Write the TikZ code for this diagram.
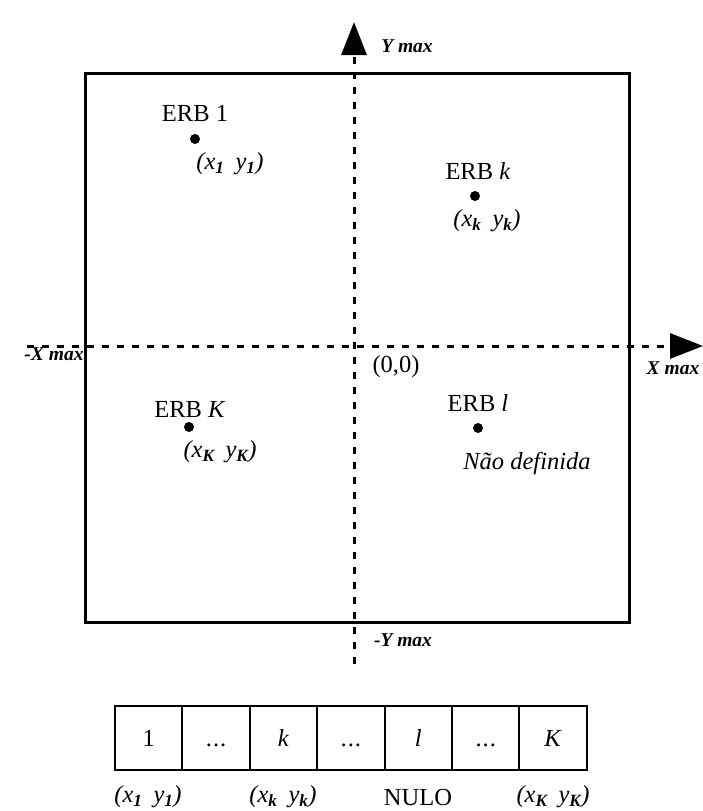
\documentclass[tikz,border=0pt]{standalone}
\usepackage{fontspec}
\setmainfont{Liberation Serif}
\usetikzlibrary{arrows.meta}
\newcommand{\xy}[1]{\itshape(x\textsubscript{\bfseries #1}\hspace{0.45em}y\textsubscript{\bfseries #1})}
\newcommand{\etc}{.\kern1pt.\kern1pt.}

\begin{document}
\begin{tikzpicture}[x=1pt,y=-1pt,font=\fontsize{24.5}{28}\selectfont,
    axis/.style={line width=3pt,dash pattern=on 7pt off 8pt,-{Triangle[length=33pt,width=25pt]}},
    erb/.style={circle,fill,inner sep=0pt,minimum size=10pt},
    cell/.style={draw,line width=2pt,minimum width=67.4pt,minimum height=64pt,inner sep=0pt,text height=17pt,text depth=0pt},
    lim/.style={font=\fontsize{19.5}{22}\selectfont\bfseries\itshape}]
  \useasboundingbox (0,0) rectangle (703,811);
  % area
  \draw[line width=3pt] (85,73) rectangle (629,622);
  % axes
  \coordinate (ybot) at (354,664);
  \coordinate (ytop) at (354,22);
  \coordinate (xleft) at (27,346);
  \coordinate (xright) at (703,346);
  \draw[axis] (ybot) -- (ytop);
  \draw[axis] (xleft) -- (xright);
  \node[lim] (ymax) at (407,46) {Y max};
  \node[lim] (ymin) at (403,640) {-Y max};
  \node[lim] (xmin) at (54,354) {-X max};
  \node[lim] (xmax) at (673,368) {X max};
  \node (orig) at (396,367) {(0,0)};
  % stations
  \node (erb1) at (195,113) {ERB 1};
  \node[erb] (p1) at (195,139) {};
  \node (c1) at (230,164) {\xy{1}};
  \node (erbk) at (478,171) {ERB \textit{k}};
  \node[erb] (pk) at (475,196) {};
  \node (ck) at (487,221) {\xy{k}};
  \node (erbK) at (190,410) {ERB \textit{K}};
  \node[erb] (pK) at (189,427) {};
  \node (cK) at (220,452) {\xy{K}};
  \node (erbl) at (478,403) {ERB \textit{l}};
  \node[erb] (pl) at (478,428) {};
  \node (cl) at (527,463) {\itshape Não definida};
  % table
  \foreach \txt [count=\i] in {1,\etc,\textit{k},\etc,\textit{l},\etc,\textit{K}}
    \node[cell] (cell\i) at ({115+33.7+67.4*(\i-1)},738) {\txt};
  \node (t1) at (148,797) {\xy{1}};
  \node (tk) at (283,797) {\xy{k}};
  \node (tl) at (418,797) {NULO};
  \node (tK) at (553,797) {\xy{K}};
\end{tikzpicture}
\end{document}
